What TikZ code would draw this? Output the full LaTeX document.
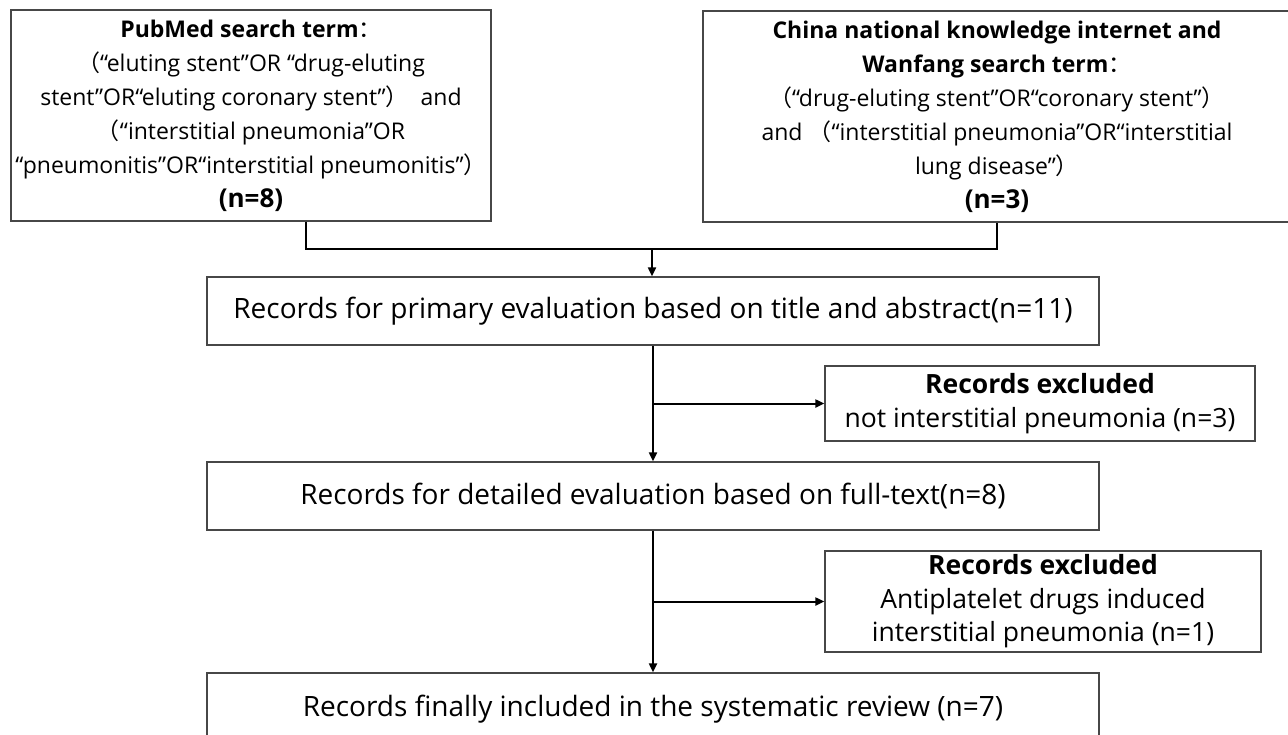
\documentclass[tikz,border=0pt]{standalone}
\usepackage{fontspec}
\setmainfont{Open Sans}
\newfontfamily\cjkf{Noto Sans CJK SC}
\usetikzlibrary{arrows.meta}
\newcommand{\zlp}{{\cjkf （}}
\newcommand{\zrp}{{\cjkf ）}}
\newcommand{\zcol}{{\cjkf ：}}
\newcommand{\bign}[1]{{\fontsize{26}{34}\selectfont\bfseries #1}}
\tikzset{
  box/.style={draw=black!72, line width=1.3pt, inner sep=0pt, align=center, text=black},
  src/.style={box, font=\fontsize{23}{34}\selectfont},
  mainbox/.style={box, font=\fontsize{28}{30}\selectfont},
  excl/.style={box, font=\fontsize{26.5}{33.5}\selectfont},
  conn/.style={line width=2pt, black},
  arr/.style={conn, -{Triangle[length=9pt,width=8pt]}}
}
\begin{document}
\begin{tikzpicture}[x=1pt,y=-1pt]
\useasboundingbox (0,0) rectangle (1288,734);
\fill[white] (0,0) rectangle (1288,734);

\node[src, minimum width=480pt, minimum height=211pt] (pub) at (251,115.5)
 {{\bfseries PubMed search term}\zcol\\
  \zlp“eluting stent”OR “drug-eluting\\
  stent”OR“eluting coronary stent”\zrp\ \ and\\
  \zlp“interstitial pneumonia”OR\\
  “pneumonitis”OR“interstitial pneumonitis”\zrp\\
  \bign{(n=8)}};

\node[src, minimum width=588pt, minimum height=211pt] (cnki) at (997,116.5)
 {{\bfseries China national knowledge internet and}\\
  {\bfseries Wanfang search term}\zcol\\
  \zlp“drug-eluting stent”OR“coronary stent”\zrp\\
  and \zlp“interstitial pneumonia”OR“interstitial\\
  lung disease”\zrp\\
  \bign{(n=3)}};

\node[mainbox, minimum width=892pt, minimum height=68pt] (prim) at (653,311)
 {Records for primary evaluation based on title and abstract(n=11)};

\node[excl, minimum width=430pt, minimum height=75pt] (ex1) at (1040,403.5)
 {{\bfseries Records excluded}\\ not interstitial pneumonia (n=3)};

\node[mainbox, minimum width=892pt, minimum height=68pt] (det) at (653,496)
 {Records for detailed evaluation based on full-text(n=8)};

\node[excl, minimum width=436pt, minimum height=101pt] (ex2) at (1043,601.5)
 {{\bfseries Records excluded}\\ Antiplatelet drugs induced\\ interstitial pneumonia (n=1)};

\node[mainbox, minimum width=892pt, minimum height=72pt] (fin) at (653,709)
 {Records finally included in the systematic review (n=7)};

\coordinate (j) at (652,249);
\coordinate (b1) at (653,403.5);
\coordinate (b2) at (653,601.5);

\draw[conn] ([xshift=55pt]pub.south) |- (j) -| (cnki.south);
\draw[arr] (j) -- (j |- prim.north);
\draw[arr] (prim.south) -- (det.north);
\draw[arr] (b1) -- (ex1.west);
\draw[arr] (det.south) -- (fin.north);
\draw[arr] (b2) -- (ex2.west);
\end{tikzpicture}
\end{document}
